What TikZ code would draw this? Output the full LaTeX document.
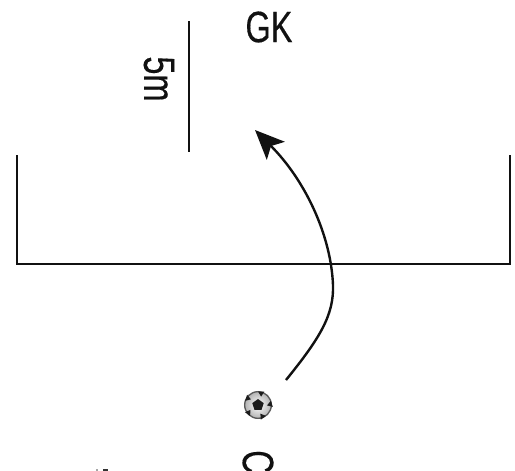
\documentclass[tikz,border=0pt]{standalone}
\usepackage{fontspec}
\setmainfont{Liberation Sans}
\newfontfamily\narrowfont[FakeStretch=.74,FakeBold=.25]{Liberation Sans}
\usetikzlibrary{arrows.meta,positioning,calc,shapes.geometric}
\definecolor{DrillInk}{HTML}{111111}
\definecolor{DrillPatch}{HTML}{1C1C1C}
\tikzset{
  line/.style={DrillInk,line width=1.7pt},
  shot/.style={-{Stealth[length=22pt,width=19pt,inset=5pt]},DrillInk,line width=1.8pt},
  tag/.style={text=DrillInk,inner sep=0pt,font=\fontsize{33}{36}\selectfont\narrowfont},
  ballbody/.style={circle,draw=black!65,line width=1pt,minimum size=20pt,inner sep=0pt,
                   inner color=white,outer color=black!30},
  patch/.style={fill=DrillPatch,draw=none},
}
\begin{document}
\begin{tikzpicture}[x=.75pt,y=-.75pt]
    \useasboundingbox (0,0) rectangle (515,471);

    \coordinate (boxtl) at (17,155);
    \coordinate (boxbl) at (17,264);
    \coordinate (boxbr) at (510,264);
    \coordinate (boxtr) at (510,155);
    \draw[line] (boxtl) -- (boxbl) -- (boxbr) -- (boxtr);

    \coordinate (marktop) at (189,21);
    \coordinate (markbot) at (189,152);
    \draw[line] (marktop) -- (markbot);

    \node[tag,rotate=-90] (dist) at (159,79) {5m};
    \node[tag] (keeper) at (269,27) {GK};
    \node[tag,rotate=-90] (coach) at (258,462) {C};

    \node[ballbody] (ball) at (258,405) {};
    \node[patch,regular polygon,regular polygon sides=5,minimum size=9pt,inner sep=0pt] at (ball) {};
    \foreach \ang in {90,162,234,306,18}
      \fill[patch] (ball.center) ++(-\ang:13.5) -- ++(-\ang-32:-6) -- ++(-\ang+32:6) -- cycle;

    \coordinate (kick) at (286,380);
    \coordinate (goal) at (255,130);
    \draw[shot] (kick) .. controls (320,338) and (334,315) .. (333,285)
      .. controls (331,235) and (305,180) .. (goal);

    \node[fill=black!35,minimum width=2pt,minimum height=1.5pt,inner sep=0pt] (specl) at (97,470) {};
    \node[fill=black!80,minimum width=4pt,minimum height=1.5pt,inner sep=0pt,right=3pt of specl] (specr) {};
\end{tikzpicture}
\end{document}
